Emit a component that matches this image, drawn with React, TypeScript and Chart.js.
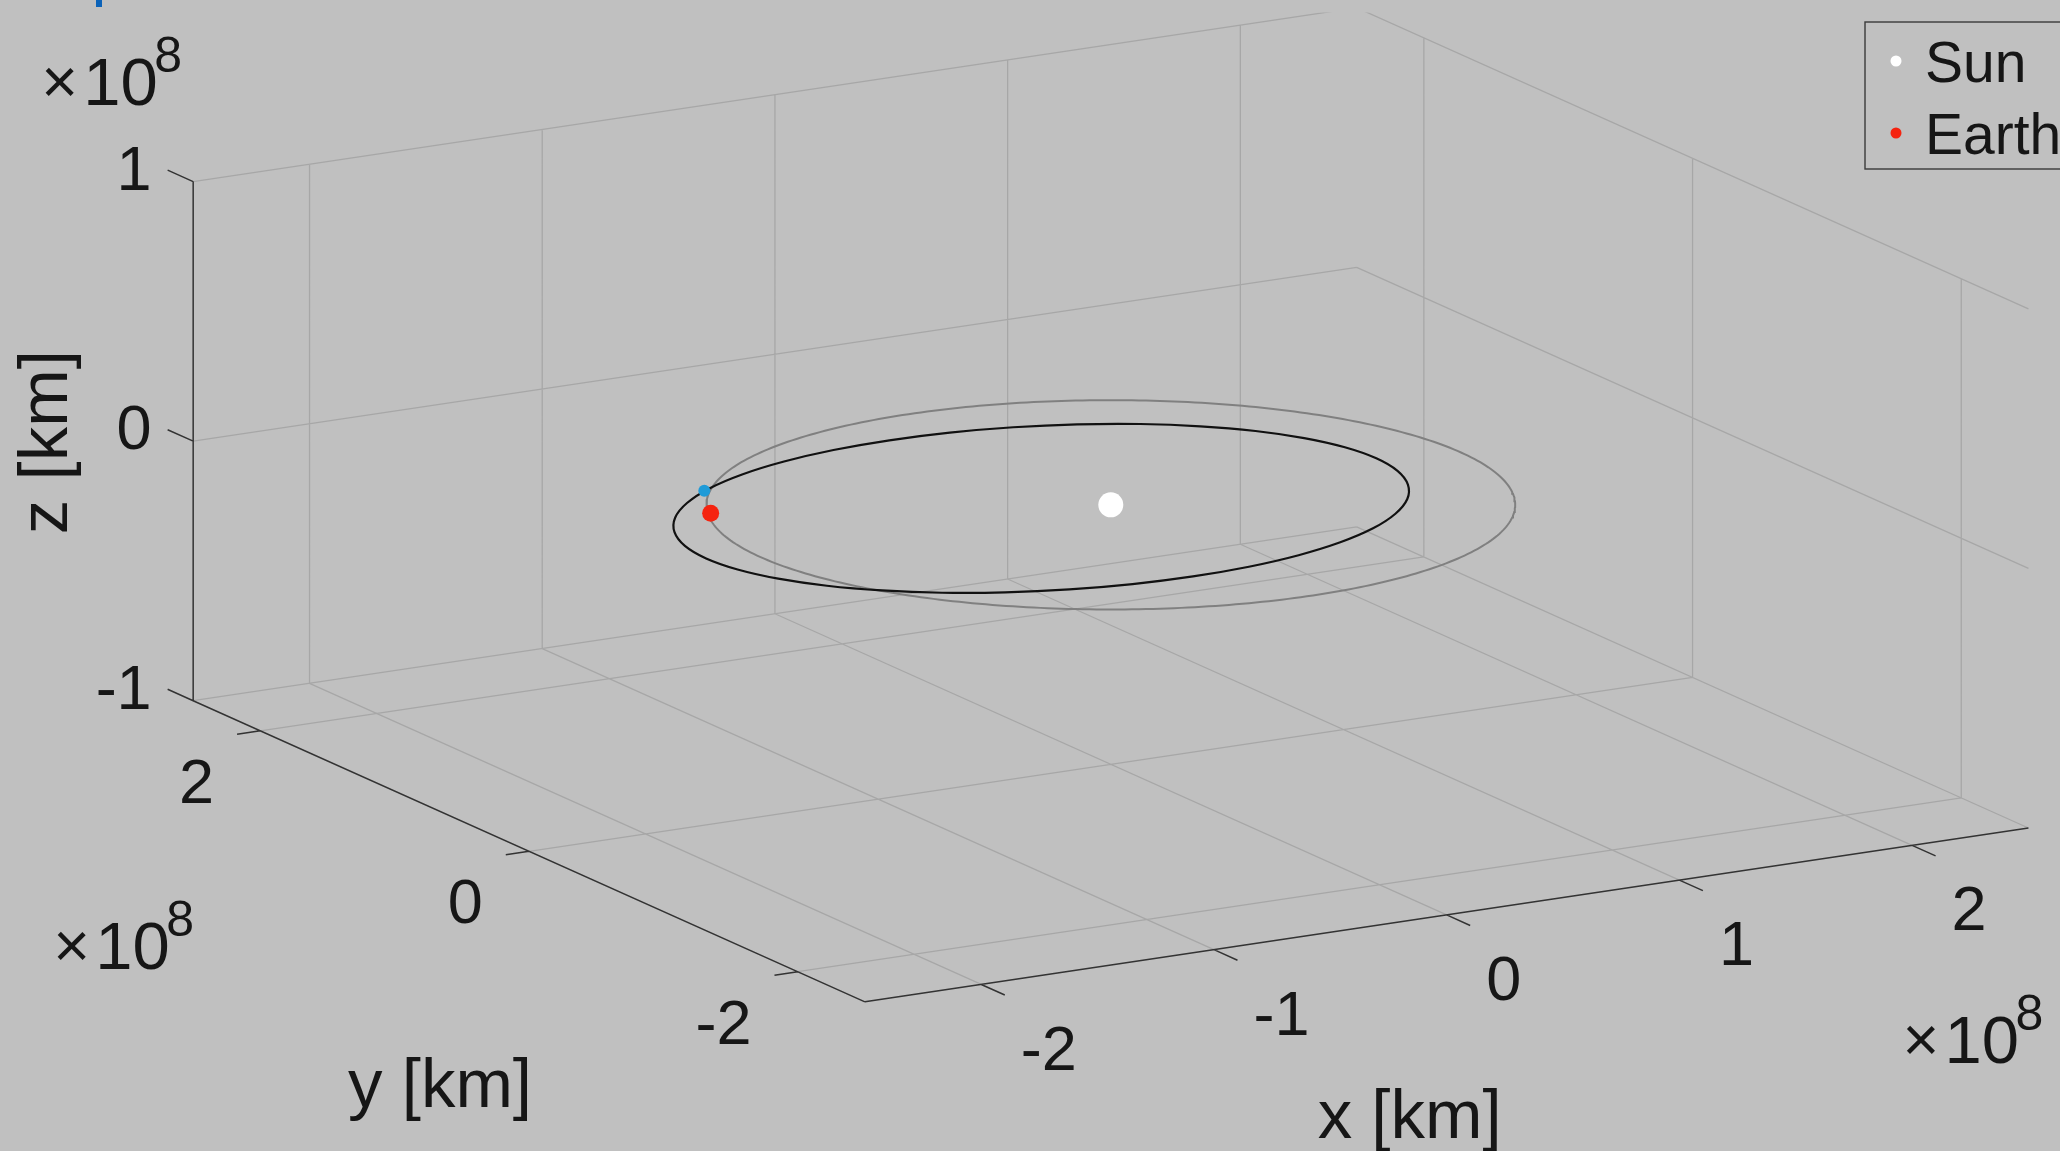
import { useEffect, useRef } from "react";
import { Chart, registerables } from "chart.js";

Chart.register(...registerables);

// ---------------- data (all positions in units of 1e8 km) ----------------
const X_LIMITS = [-2.5, 2.5];
const Y_LIMITS = [-2.5, 2.5];
const Z_LIMITS = [-1, 1];
const X_TICKS = [-2, -1, 0, 1, 2];
const Y_TICKS = [-2, 0, 2];
const Z_TICKS = [-1, 0, 1];
const X_TICK_LABELS = ["-2", "-1", "0", "1", "2"];
const Y_TICK_LABELS = ["-2", "0", "2"];
const Z_TICK_LABELS = ["-1", "0", "1"];
const AXIS_EXPONENT = "8";
const X_LABEL = "x [km]";
const Y_LABEL = "y [km]";
const Z_LABEL = "z [km]";

const SUN_POS = [0, 0, 0];
const EARTH_POS = [-1.35, 0.64, 0];
const SPACECRAFT_POS = [-1.21, 0.93, 0];
const EARTH_ORBIT_RADIUS = 1.505;

// transfer trajectory (ecliptic plane, z = 0)
const TRANSFER_X = [
  1.19, 1.168, 1.103, 0.997, 0.853, 0.676, 0.47, 0.243, 0.0, -0.25, -0.5, -0.742,
  -0.97, -1.176, -1.353, -1.497, -1.603, -1.668, -1.69, -1.668, -1.603, -1.497, -1.353, -1.176,
  -0.97, -0.742, -0.5, -0.25, 0.0, 0.243, 0.47, 0.676, 0.853, 0.997, 1.103, 1.168,
];
const TRANSFER_Y = [
  0.085, 0.281, 0.471, 0.65, 0.811, 0.951, 1.064, 1.147, 1.198, 1.215, 1.198, 1.147,
  1.064, 0.951, 0.811, 0.65, 0.471, 0.281, 0.085, -0.111, -0.301, -0.48, -0.641, -0.781,
  -0.894, -0.977, -1.028, -1.045, -1.028, -0.977, -0.894, -0.781, -0.641, -0.48, -0.301, -0.111,
];
const TRANSFER_Z = 0;

const LEGEND_LABELS = ["Sun", "Earth"];

// ---------------- view / style ----------------
const CANVAS_W = 2060;
const CANVAS_H = 1151;
const VIEW_AZ = -30;
const VIEW_EL = 15;
const PX_PER_UNIT = 268.7;
const ORIGIN_PX = { x: 1110.8, y: 504.8 };

const SUN_R = 12.5;
const EARTH_R = 8.5;
const CRAFT_R = 6;
// Chart.js pads the chart area by the largest point radius
const AREA_PAD = SUN_R;

const BG = "#c0c0c0";
const GRID_COLOR = "#a7a7a7";
const AXIS_COLOR = "#333333";
const TEXT_COLOR = "#161616";
const SUN_COLOR = "#ffffff";
const EARTH_COLOR = "#f5230f";
const CRAFT_COLOR = "#1f9bd8";
const FONT = '"Liberation Sans", Arial, Helvetica, sans-serif';
const TICK_FONT = 63;
const LABEL_FONT = 69;
const LEGEND_FONT = 57;
const EXP_BASE_FONT = 67;
const EXP_FONT = 50;
const TICK_LEN_X = 0.175;
const TICK_LEN_Y = 0.1;
const TICK_LEN_Z = 0.19;

type P2 = { x: number; y: number };

const rad = (d: number) => (d * Math.PI) / 180;
function project(x: number, y: number, z: number): P2 {
  const a = rad(VIEW_AZ);
  const e = rad(VIEW_EL);
  return {
    x: x * Math.cos(a) + y * Math.sin(a),
    y: -x * Math.sin(e) * Math.sin(a) + y * Math.sin(e) * Math.cos(a) + z * Math.cos(e),
  };
}

function polylines(lines: number[][][]): P2[] {
  const out: P2[] = [];
  lines.forEach((line) => {
    line.forEach((p) => out.push(project(p[0], p[1], p[2])));
    out.push({ x: NaN, y: NaN });
  });
  return out;
}

const [xmin, xmax] = X_LIMITS;
const [ymin, ymax] = Y_LIMITS;
const [zmin, zmax] = Z_LIMITS;

function gridLines(): number[][][] {
  const l: number[][][] = [];
  X_TICKS.forEach((x) => l.push([[x, ymin, zmin], [x, ymax, zmin]]));
  Y_TICKS.forEach((y) => l.push([[xmin, y, zmin], [xmax, y, zmin]]));
  X_TICKS.forEach((x) => l.push([[x, ymax, zmin], [x, ymax, zmax]]));
  Z_TICKS.forEach((z) => l.push([[xmin, ymax, z], [xmax, ymax, z]]));
  Y_TICKS.forEach((y) => l.push([[xmax, y, zmin], [xmax, y, zmax]]));
  Z_TICKS.forEach((z) => l.push([[xmax, ymin, z], [xmax, ymax, z]]));
  return l;
}

function axisLines(): number[][][] {
  const l: number[][][] = [
    [[xmin, ymax, zmin], [xmin, ymax, zmax]],
    [[xmin, ymin, zmin], [xmin, ymax, zmin]],
    [[xmin, ymin, zmin], [xmax, ymin, zmin]],
  ];
  Z_TICKS.forEach((z) => l.push([[xmin, ymax, z], [xmin, ymax + TICK_LEN_Z, z]]));
  Y_TICKS.forEach((y) => l.push([[xmin, y, zmin], [xmin - TICK_LEN_Y, y, zmin]]));
  X_TICKS.forEach((x) => l.push([[x, ymin, zmin], [x, ymin - TICK_LEN_X, zmin]]));
  return l;
}

function earthOrbit(): P2[] {
  const pts: P2[] = [];
  for (let i = 0; i <= 360; i++) {
    const t = rad(i);
    pts.push(project(EARTH_ORBIT_RADIUS * Math.cos(t), EARTH_ORBIT_RADIUS * Math.sin(t), 0));
  }
  return pts;
}

function transferOrbit(): P2[] {
  const pts = TRANSFER_X.map((x, i) => project(x, TRANSFER_Y[i], TRANSFER_Z));
  const n = pts.length;
  return [pts[n - 1], ...pts, pts[0], pts[1]];
}

const bgPlugin = {
  id: "bgFill",
  beforeDraw(chart: any) {
    const ctx = chart.ctx;
    ctx.save();
    ctx.fillStyle = BG;
    ctx.fillRect(0, 0, chart.width, chart.height);
    ctx.restore();
  },
};

const textPlugin = {
  id: "axisText",
  afterDraw(chart: any) {
    const ctx: CanvasRenderingContext2D = chart.ctx;
    const sx = chart.scales.x;
    const sy = chart.scales.y;
    const pix = (x: number, y: number, z: number) => {
      const p = project(x, y, z);
      return { x: sx.getPixelForValue(p.x), y: sy.getPixelForValue(p.y) };
    };
    ctx.save();
    ctx.fillStyle = TEXT_COLOR;
    ctx.textBaseline = "alphabetic";
    ctx.font = `${TICK_FONT}px ${FONT}`;
    const half = TICK_FONT * 0.358;

    ctx.textAlign = "right";
    Z_TICKS.forEach((z, i) => {
      const t = pix(xmin, ymax + TICK_LEN_Z, z);
      ctx.fillText(Z_TICK_LABELS[i], t.x - 16, t.y - 3 + half);
    });
    Y_TICKS.forEach((y, i) => {
      const t = pix(xmin - TICK_LEN_Y, y, zmin);
      ctx.fillText(Y_TICK_LABELS[i], t.x - 23, t.y + 46 + half);
    });
    ctx.textAlign = "left";
    X_TICKS.forEach((x, i) => {
      const t = pix(x, ymin - TICK_LEN_X, zmin);
      ctx.fillText(X_TICK_LABELS[i], t.x + 16, t.y + 52 + half);
    });

    // exponents  (×10^8)
    const drawExp = (ax: number, ay: number) => {
      ctx.textAlign = "left";
      ctx.font = `${TICK_FONT}px ${FONT}`;
      ctx.fillText("\u00d7", ax, ay - 2);
      ctx.font = `${EXP_BASE_FONT}px ${FONT}`;
      ctx.fillText("10", ax + 42, ay);
      ctx.font = `${EXP_FONT}px ${FONT}`;
      ctx.fillText(AXIS_EXPONENT, ax + 113, ay - 33);
    };
    const zTop = pix(xmin, ymax, zmax);
    drawExp(zTop.x - 152, zTop.y - 77);
    const cA = pix(xmin, ymax, zmin);
    drawExp(cA.x - 140, cA.y + 268);
    const cC = pix(xmax, ymin, zmin);
    drawExp(cC.x - 126, cC.y + 235);

    // axis labels
    ctx.font = `${LABEL_FONT}px ${FONT}`;
    ctx.textAlign = "center";
    const xa = pix(0, ymin, zmin);
    ctx.fillText(X_LABEL, xa.x - 37, xa.y + 223);
    const ya = pix(xmin, 0, zmin);
    ctx.fillText(Y_LABEL, ya.x - 89, ya.y + 256);
    const za = pix(xmin, ymax, 0);
    ctx.save();
    ctx.translate(za.x - 126, za.y + 1);
    ctx.rotate(-Math.PI / 2);
    ctx.fillText(Z_LABEL, 0, 0);
    ctx.restore();

    // legend
    const lx = chart.width - 195;
    const ly = 22;
    ctx.strokeStyle = "#3a3a3a";
    ctx.lineWidth = 1.4;
    ctx.fillStyle = BG;
    ctx.fillRect(lx, ly, 260, 147);
    ctx.strokeRect(lx, ly, 260, 147);
    const colors = [SUN_COLOR, EARTH_COLOR];
    ctx.font = `${LEGEND_FONT}px ${FONT}`;
    ctx.textAlign = "left";
    LEGEND_LABELS.forEach((lab, i) => {
      const cy = ly + 39 + i * 72;
      ctx.beginPath();
      ctx.arc(lx + 31, cy, 5.5, 0, Math.PI * 2);
      ctx.fillStyle = colors[i];
      ctx.fill();
      ctx.fillStyle = TEXT_COLOR;
      ctx.fillText(lab, lx + 60, cy + 21);
    });

    // small blue mark at top-left (cut-off title glyph)
    ctx.fillStyle = "#0b62b8";
    ctx.fillRect(96, 0, 6, 7);
    ctx.restore();
  },
};

export default function App() {
  const ref = useRef<HTMLCanvasElement>(null);
  useEffect(() => {
    document.body.style.margin = "0";
    document.body.style.overflow = "hidden";
    const canvas = ref.current!;
    const n = TRANSFER_X.length;
    const hidden = "rgba(0,0,0,0)";
    const sun = project(SUN_POS[0], SUN_POS[1], SUN_POS[2]);
    const earth = project(EARTH_POS[0], EARTH_POS[1], EARTH_POS[2]);
    const craft = project(SPACECRAFT_POS[0], SPACECRAFT_POS[1], SPACECRAFT_POS[2]);
    const chart = new Chart(canvas, {
      type: "scatter",
      data: {
        datasets: [
          {
            label: "grid",
            data: polylines(gridLines()),
            showLine: true,
            borderColor: GRID_COLOR,
            borderWidth: 1.3,
            pointRadius: 0,
            pointHoverRadius: 0,
            spanGaps: false,
            order: 10,
          },
          {
            label: "axes",
            data: polylines(axisLines()),
            showLine: true,
            borderColor: AXIS_COLOR,
            borderWidth: 1.5,
            pointRadius: 0,
            pointHoverRadius: 0,
            spanGaps: false,
            order: 9,
          },
          {
            label: "Earth orbit",
            data: earthOrbit(),
            showLine: true,
            borderColor: "#808080",
            borderWidth: 2,
            pointRadius: 0,
            pointHoverRadius: 0,
            order: 6,
          },
          {
            label: "Transfer",
            data: transferOrbit(),
            showLine: true,
            borderColor: "#111111",
            borderWidth: 2.2,
            pointRadius: 0,
            pointHoverRadius: 0,
            tension: 0.4,
            segment: {
              borderColor: (c: any) =>
                c.p0DataIndex === 0 || c.p0DataIndex === n + 1 ? hidden : undefined,
            },
            order: 5,
          },
          {
            label: "Sun",
            data: [sun],
            pointRadius: SUN_R,
            pointHoverRadius: SUN_R,
            backgroundColor: SUN_COLOR,
            borderWidth: 0,
            order: 3,
          },
          {
            label: "Earth",
            data: [earth],
            pointRadius: EARTH_R,
            pointHoverRadius: EARTH_R,
            backgroundColor: EARTH_COLOR,
            borderWidth: 0,
            order: 2,
          },
          {
            label: "Spacecraft",
            data: [craft],
            pointRadius: CRAFT_R,
            pointHoverRadius: CRAFT_R,
            backgroundColor: CRAFT_COLOR,
            borderWidth: 0,
            order: 1,
          },
        ] as any,
      },
      options: {
        responsive: false,
        animation: false,
        devicePixelRatio: 1,
        events: [],
        layout: { padding: 0 },
        plugins: { legend: { display: false }, tooltip: { enabled: false } },
        scales: {
          x: {
            type: "linear",
            display: false,
            min: (AREA_PAD - ORIGIN_PX.x) / PX_PER_UNIT,
            max: (CANVAS_W - AREA_PAD - ORIGIN_PX.x) / PX_PER_UNIT,
          },
          y: {
            type: "linear",
            display: false,
            min: -(CANVAS_H - AREA_PAD - ORIGIN_PX.y) / PX_PER_UNIT,
            max: (ORIGIN_PX.y - AREA_PAD) / PX_PER_UNIT,
          },
        },
      },
      plugins: [bgPlugin, textPlugin],
    });
    return () => chart.destroy();
  }, []);
  return (
    <div style={{ position: "fixed", left: 0, top: 0, width: CANVAS_W, height: CANVAS_H }}>
      <canvas
        ref={ref}
        width={CANVAS_W}
        height={CANVAS_H}
        style={{ display: "block", width: CANVAS_W, height: CANVAS_H }}
      />
    </div>
  );
}
